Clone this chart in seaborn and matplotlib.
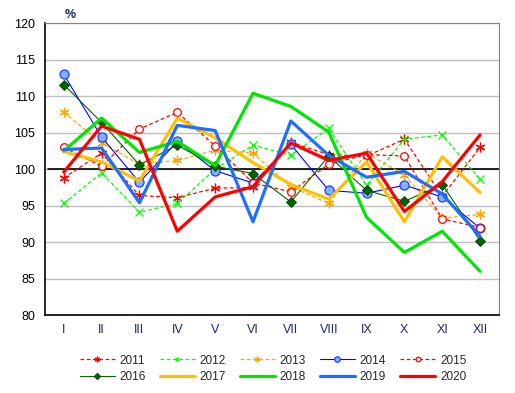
import matplotlib
matplotlib.use("Agg")
import matplotlib.pyplot as plt
import seaborn as sns
import pandas as pd

months = ["I", "II", "III", "IV", "V", "VI", "VII", "VIII", "IX", "X", "XI", "XII"]

y2011 = [98.8, 102.2, 96.4, 96.1, 97.4, 97.5, 103.7, 102.0, 101.8, 104.1, 96.3, 103.0]
y2012 = [95.3, 99.5, 94.1, 95.3, 100.0, 103.3, 101.9, 105.6, 97.8, 104.1, 104.7, 98.6]
y2013 = [107.8, 103.6, 100.7, 101.2, 102.6, 102.2, 97.6, 95.3, 102.2, 99.2, 93.3, 93.8]
y2014 = [113.0, 104.4, 98.2, 103.8, 99.8, 98.1, 103.4, 97.1, 96.7, 97.8, 96.2, 91.9]
y2015 = [103.0, 100.4, 105.5, 107.8, 103.2, 98.1, 96.9, 100.7, 102.0, 101.8, 93.2, 92.0]
y2016 = [111.6, 106.4, 100.6, 103.3, 100.4, 99.4, 95.5, 101.8, 97.1, 95.6, 97.9, 90.2]
y2017 = [102.4, 101.0, 98.4, 107.0, 104.3, 100.9, 97.9, 95.9, 101.0, 92.8, 101.7, 96.8]
y2018 = [102.5, 107.0, 102.3, 103.8, 100.5, 110.4, 108.6, 105.1, 93.4, 88.6, 91.5, 86.0]
y2019 = [102.7, 102.9, 95.4, 106.0, 105.3, 92.8, 106.6, 101.9, 98.9, 99.7, 96.6, 90.8]
y2020 = [99.6, 105.9, 104.1, 91.5, 96.2, 97.6, 103.6, 101.2, 102.2, 94.2, 98.3, 104.7]

years = ["2011", "2012", "2013", "2014", "2015", "2016", "2017", "2018", "2019", "2020"]
series = [y2011, y2012, y2013, y2014, y2015, y2016, y2017, y2018, y2019, y2020]

ast = (6, 2, 0)
styles = {
    "2011": dict(color="#FF0000", lw=0.9, ls=(0, (3, 2)), marker=ast, ms=7, mfc="#FF0000", mec="#FF0000", mew=0.9),
    "2012": dict(color="#00FF00", lw=0.9, ls=(0, (3, 2)), marker="x", ms=6, mfc="#00FF00", mec="#00FF00", mew=0.9),
    "2013": dict(color="#FFA500", lw=0.9, ls=(0, (3, 2)), marker=ast, ms=7, mfc="#FFA500", mec="#FFA500", mew=0.9),
    "2014": dict(color="#0000FF", lw=0.8, ls="-", marker="o", ms=6.5, mfc="#7FB2FF", mec="#2040FF", mew=0.9),
    "2015": dict(color="#FF0000", lw=0.9, ls=(0, (3, 2)), marker="o", ms=5.5, mfc="white", mec="#FF0000", mew=0.9),
    "2016": dict(color="#006400", lw=0.8, ls="-", marker="D", ms=5.5, mfc="#006400", mec="#004000", mew=0.6),
    "2017": dict(color="#FFC000", lw=2.3, ls="-", marker=None),
    "2018": dict(color="#00E600", lw=2.3, ls="-", marker=None),
    "2019": dict(color="#1E6FFF", lw=2.3, ls="-", marker=None),
    "2020": dict(color="#FF0000", lw=2.3, ls="-", marker=None),
}

sns.set_style("white")
plt.rcParams["font.family"] = ["Liberation Sans", "DejaVu Sans"]

fig = plt.figure(figsize=(5.15, 3.93), dpi=100)
ax = fig.add_axes([0.087, 0.198, 0.882, 0.743])

for yr, vals in zip(years, series):
    df = pd.DataFrame({"month": months, "value": vals})
    st = styles[yr]
    kw = dict(color=st["color"], linewidth=st["lw"], linestyle=st["ls"])
    if st["marker"] is not None:
        kw.update(marker=st["marker"], markersize=st["ms"], markerfacecolor=st["mfc"],
                  markeredgecolor=st["mec"], markeredgewidth=st["mew"])
    sns.lineplot(data=df, x="month", y="value", ax=ax, sort=False, label=yr, **kw)

ax.set_ylim(80, 120)
ax.set_xlim(-0.5, 11.5)
ax.set_yticks([80, 85, 90, 95, 100, 105, 110, 115, 120])
ax.yaxis.grid(True, color="#C0C0C0", linewidth=1)
ax.xaxis.grid(False)
ax.set_axisbelow(True)
ax.axhline(100, color="black", linewidth=1.2, xmin=0.008, zorder=1.5)
ax.set_xlabel("")
ax.set_ylabel("")
ax.tick_params(axis="x", labelsize=9, length=0, pad=6)
ax.tick_params(axis="y", labelsize=9, length=0, pad=7)
for lab in ax.get_xticklabels():
    lab.set_color("#1A2A6C")
for lab in ax.get_yticklabels():
    lab.set_color("black")

ax.spines["left"].set_color("black")
ax.spines["bottom"].set_color("black")
ax.spines["left"].set_linewidth(1.2)
ax.spines["bottom"].set_linewidth(1.2)
ax.spines["top"].set_color("#808080")
ax.spines["right"].set_color("#808080")

fig.text(70 / 515, 1 - 15 / 393, "%", ha="center", va="center", fontsize=9, fontweight="bold", color="#1A2A6C")

handles, labels = ax.get_legend_handles_labels()
ax.get_legend().remove()
# reorder so that rows read 2011-2015 and 2016-2020 (legend fills column-wise)
order = []
for c in range(5):
    order += [c, c + 5]
fig.legend([handles[i] for i in order], [labels[i] for i in order], ncol=5, loc="center",
           bbox_to_anchor=(0.53, 0.062), frameon=False,
           fontsize=8.5, handlelength=3.0, columnspacing=1.15, handletextpad=0.4, labelspacing=0.35,
           markerscale=0.6)

fig.savefig("out.png", dpi=100)
